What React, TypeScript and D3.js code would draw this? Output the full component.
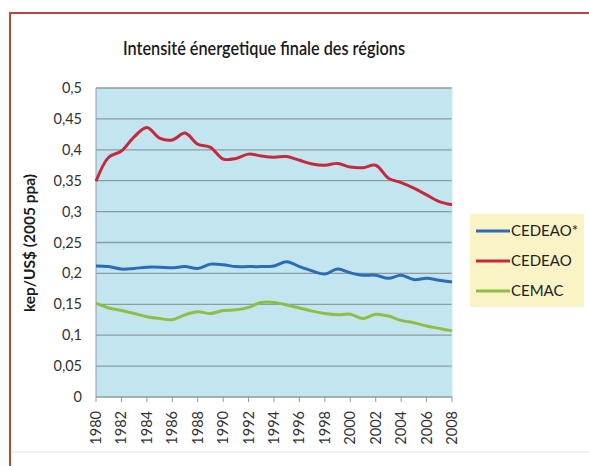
import React from "react";
import * as d3 from "d3";

const years = d3.range(1980, 2009);
const cedeaoStar = [0.212, 0.211, 0.207, 0.208, 0.21, 0.21, 0.209, 0.211, 0.208, 0.215, 0.214, 0.211, 0.211, 0.211, 0.212,
  0.219, 0.211, 0.204, 0.199, 0.207, 0.201, 0.197, 0.197, 0.192, 0.197, 0.19, 0.192, 0.189, 0.186];
const cedeao = [0.349, 0.388, 0.398, 0.421, 0.436, 0.419, 0.416, 0.427, 0.409, 0.404, 0.385, 0.386, 0.393, 0.39, 0.388,
  0.389, 0.383, 0.377, 0.375, 0.378, 0.372, 0.371, 0.375, 0.354, 0.347, 0.338, 0.327, 0.316, 0.311];
const cemac = [0.152, 0.144, 0.14, 0.135, 0.13, 0.127, 0.125, 0.133, 0.138, 0.135, 0.14, 0.141, 0.145, 0.153, 0.153,
  0.149, 0.144, 0.139, 0.135, 0.133, 0.134, 0.127, 0.134, 0.131, 0.124, 0.12, 0.115, 0.111, 0.107];
const seriesNames = ["CEDEAO*", "CEDEAO", "CEMAC"];
const seriesColors = ["#2a6cb6", "#c42a3c", "#8dbf45"];
const yTicks = [0, 0.05, 0.1, 0.15, 0.2, 0.25, 0.3, 0.35, 0.4, 0.45, 0.5];
const xTicks = d3.range(1980, 2009, 2);

const W = 589, H = 466;
const left = 96, right = 452, top = 88, bottom = 397;
const font = "Lato, 'Open Sans', sans-serif";

export default function App() {
  const x = d3.scaleLinear().domain([1980, 2008]).range([left, right]);
  const y = d3.scaleLinear().domain([0, 0.5]).range([bottom, top]);
  const line = d3.line<number>().x((_, i) => x(years[i])).y((d) => y(d)).curve(d3.curveCatmullRom.alpha(0.5));
  const all = [cedeaoStar, cedeao, cemac];
  const fmt = (v: number) => String(+v.toFixed(2)).replace(".", ",");

  return (
    <svg width={W} height={H} style={{ position: "absolute", left: 0, top: 0 }}>
      <rect width={W} height={H} fill="#fff" />
      {/* frame */}
      <line x1={10} x2={W} y1={13} y2={13} stroke="#b8463a" strokeWidth={2} />
      <line x1={10} x2={10} y1={12} y2={H} stroke="#b8463a" strokeWidth={2} />
      <line x1={12} x2={W} y1={452} y2={452} stroke="#e2e2e2" strokeWidth={1} />

      <text x={264} y={55} textAnchor="middle" fontFamily={font} fontWeight={600} fontSize={19} fill="#1a1a1a"
        textLength={282} lengthAdjust="spacingAndGlyphs">
        Intensité énergetique finale des régions
      </text>

      <rect x={left} y={top} width={right - left} height={bottom - top} fill="#c2e5ef" />
      {yTicks.map((t) => (
        <g key={t}>
          {t > 0 && <line x1={left} x2={right} y1={y(t)} y2={y(t)} stroke="#8b9ca3" strokeWidth={1.3} />}
          <text x={82} y={y(t) + 5} textAnchor="end" fontFamily={font} fontSize={14.5} fill="#333">{fmt(t)}</text>
        </g>
      ))}
      <line x1={right} x2={right} y1={top} y2={bottom} stroke="#d0e4ea" strokeWidth={1} />
      <line x1={left} x2={left} y1={top} y2={bottom} stroke="#8b9ca3" strokeWidth={1} />
      <line x1={left} x2={right} y1={bottom} y2={bottom} stroke="#8b9ca3" strokeWidth={1.3} />
      {xTicks.map((t) => (
        <g key={t}>
          <line x1={x(t)} x2={x(t)} y1={bottom} y2={bottom + 5} stroke="#8b9ca3" strokeWidth={1} />
          <text transform={`translate(${x(t) + 5},${bottom + 14}) rotate(-90)`} textAnchor="end"
            fontFamily={font} fontSize={14.5} fill="#333">{t}</text>
        </g>
      ))}

      {all.map((s, i) => (
        <path key={i} d={line(s) ?? ""} fill="none" stroke={seriesColors[i]} strokeWidth={3} strokeLinejoin="round" />
      ))}

      <text transform={`translate(35,243) rotate(-90)`} textAnchor="middle" fontFamily={font} fontWeight={700}
        fontSize={15.5} fill="#1a1a1a">kep/US$ (2005 ppa)</text>

      <rect x={470} y={214} width={114} height={93} fill="#faf3c6" />
      {seriesNames.map((n, i) => (
        <g key={n}>
          <line x1={476} x2={510} y1={231 + i * 30} y2={231 + i * 30} stroke={seriesColors[i]} strokeWidth={3} />
          <text x={511} y={236 + i * 30} fontFamily={font} fontSize={15} fill="#222">{n}</text>
        </g>
      ))}
    </svg>
  );
}
